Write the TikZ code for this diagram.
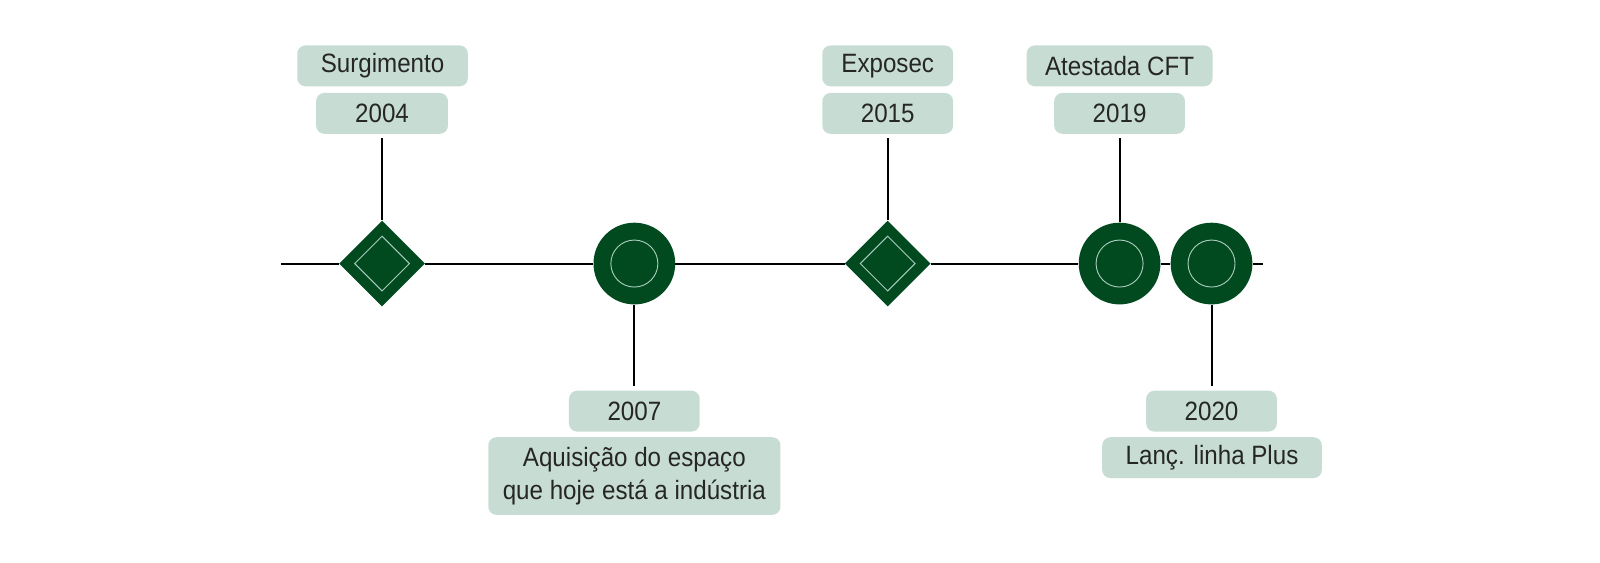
\documentclass[tikz,border=0pt]{standalone}
\usepackage{fontspec}
\setmainfont[FakeStretch=0.91]{Liberation Sans}
\usetikzlibrary{shapes.geometric}
\definecolor{boxfill}{HTML}{C7DDD4}
\definecolor{darkgreen}{HTML}{014A1F}
\definecolor{innerline}{HTML}{A9CBBB}
\newlength\pxu
\setlength\pxu{0.7661pt}
\begin{document}
\begin{tikzpicture}[x=\pxu,y=-\pxu,
  lbl/.style={fill=boxfill,rounded corners=8\pxu,inner sep=0pt,minimum height=40\pxu,font=\fontsize{19.9}{24.5}\selectfont,text=black!85},
  dmd/.style={diamond,aspect=1,fill=darkgreen,minimum size=84\pxu,inner sep=0pt},
  dmdin/.style={diamond,aspect=1,draw=innerline,line width=0.7pt,minimum size=54\pxu,inner sep=0pt},
  crc/.style={circle,fill=darkgreen,minimum size=80\pxu,inner sep=0pt},
  crcin/.style={circle,draw=innerline,line width=0.7pt,minimum size=46\pxu,inner sep=0pt},
  conn/.style={line width=1.5pt,black},
  tline/.style={line width=1.5pt,black}]
\useasboundingbox (0,0) rectangle (1566.3,550.2);
% shapes
\node[dmd] (d1) at (374,258) {};
\node[dmdin] (d1i) at (374,258) {};
\node[crc] (c1) at (621,258) {};
\node[crcin] (c1i) at (621,258) {};
\node[dmd] (d2) at (869,258) {};
\node[dmdin] (d2i) at (869,258) {};
\node[crc] (c3) at (1096,258) {};
\node[crcin] (c3i) at (1096,258) {};
\node[crc] (c4) at (1186,258) {};
\node[crcin] (c4i) at (1186,258) {};
\coordinate (tstart) at (275,258);
\coordinate (tend) at (1236,258);
% labels
\node[lbl,minimum width=167\pxu] (surg) at (374.5,64.5) {Surgimento};
\node[lbl,minimum width=129\pxu] (y2004) at (374,111) {2004};
\node[lbl,minimum width=128\pxu] (expo) at (869,64.5) {Exposec};
\node[lbl,minimum width=128\pxu] (y2015) at (869,111) {2015};
\node[lbl,minimum width=182\pxu] (atest) at (1096,64.5) {Atestada CFT};
\node[lbl,minimum width=128\pxu] (y2019) at (1096,111) {2019};
\node[lbl,minimum width=128\pxu] (y2007) at (621,402.5) {2007};
\node[lbl,minimum width=286\pxu,minimum height=76\pxu,align=center] (aquis) at (621,466) {Aquisição do espaço\\que hoje está a indústria};
\node[lbl,minimum width=128\pxu] (y2020) at (1186,402.5) {2020};
\node[lbl,minimum width=215\pxu] (lanc) at (1186.5,448) {Lanç. linha Plus};
% timeline
\draw[tline] (tstart) -- (d1.west);
\draw[tline] (d1.east) -- (c1.west);
\draw[tline] (c1.east) -- (d2.west);
\draw[tline] (d2.east) -- (c3.west);
\draw[tline] (c3.east) -- (c4.west);
\draw[tline] (c4.east) -- (tend);
% connectors
\draw[conn,shorten <=4\pxu] (y2004.south) -- (d1.north);
\draw[conn,shorten <=4\pxu] (y2015.south) -- (d2.north);
\draw[conn,shorten <=4\pxu] (y2019.south) -- (c3.north);
\draw[conn,shorten >=4\pxu] (c1.south) -- (y2007.north);
\draw[conn,shorten >=4\pxu] (c4.south) -- (y2020.north);
\end{tikzpicture}
\end{document}
